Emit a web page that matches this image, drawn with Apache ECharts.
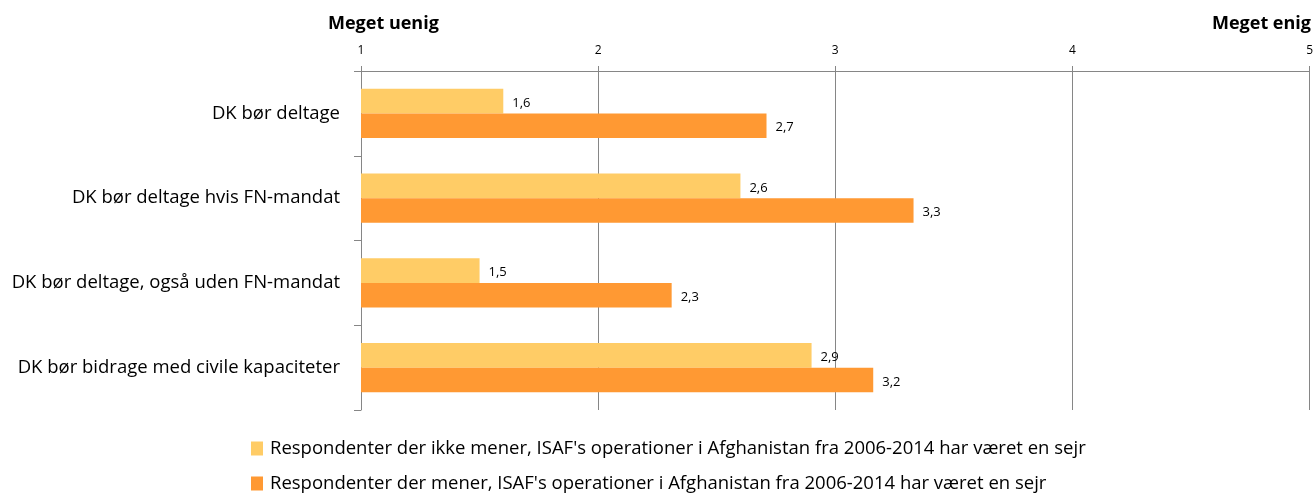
<!DOCTYPE html>
<html>
<head>
<meta charset="utf-8">
<script src="https://cdn.jsdelivr.net/npm/echarts@6/dist/echarts.min.js"></script>
<style>
html,body{margin:0;padding:0;background:#fff;}
#chart{width:1316px;height:493px;}
</style>
</head>
<body>
<div id="chart"></div>
<script>
const categories = [
  'DK bør deltage',
  'DK bør deltage hvis FN-mandat',
  'DK bør deltage, også uden FN-mandat',
  'DK bør bidrage med civile kapaciteter'
];
const seriesNames = [
  "Respondenter der ikke mener, ISAF's operationer i Afghanistan fra 2006-2014 har været en sejr",
  "Respondenter der mener, ISAF's operationer i Afghanistan fra 2006-2014 har været en sejr"
];
const valuesNotVictory = [1.60, 2.60, 1.50, 2.90];
const valuesVictory = [2.71, 3.33, 2.31, 3.16];
const axisMinLabel = 'Meget uenig';
const axisMaxLabel = 'Meget enig';

const FONT = 'Open Sans';
const chart = echarts.init(document.getElementById('chart'), null, {renderer: 'canvas'});
const fmt = p => p.value.toFixed(1).replace('.', ',');
const labelCfg = {
  show: true, position: 'right', distance: 9, offset: [0, 2],
  fontFamily: FONT, fontSize: 13, color: '#000', formatter: fmt
};
const legendBase = {
  orient: 'vertical', left: 251, padding: 0,
  itemWidth: 12, itemHeight: 14,
  icon: 'rect',
  textStyle: {fontFamily: FONT, fontSize: 18.5, lineHeight: 14, color: '#000', padding: [0, 0, 0, 2]}
};
chart.setOption({
  backgroundColor: '#fff',
  animation: false,
  title: [
    {text: axisMinLabel, left: 328, top: 15, padding: 0, textStyle: {fontFamily: FONT, fontSize: 18, fontWeight: 'bold', color: '#000'}},
    {text: axisMaxLabel, right: 5, top: 15, padding: 0, textStyle: {fontFamily: FONT, fontSize: 18, fontWeight: 'bold', color: '#000'}}
  ],
  legend: [
    Object.assign({}, legendBase, {top: 439, data: [seriesNames[0]]}),
    Object.assign({}, legendBase, {top: 474, data: [seriesNames[1]]})
  ],
  grid: {left: 361, right: 6, top: 71, bottom: 83, containLabel: false},
  xAxis: {
    type: 'value', position: 'top', min: 1, max: 5, interval: 1,
    axisLine: {show: true, lineStyle: {color: '#868686', width: 1}},
    axisTick: {show: true, length: 5, lineStyle: {color: '#868686'}},
    splitLine: {show: true, lineStyle: {color: '#868686', width: 1}},
    axisLabel: {fontFamily: FONT, fontSize: 12, color: '#000', margin: 14}
  },
  yAxis: {
    type: 'category', inverse: true, data: categories,
    axisLine: {show: true, lineStyle: {color: '#868686', width: 1}},
    axisTick: {show: true, length: 7, lineStyle: {color: '#868686'}},
    axisLabel: {fontFamily: FONT, fontSize: 18.5, color: '#000', margin: 21}
  },
  series: [
    {name: seriesNames[0], type: 'bar', data: valuesNotVictory, itemStyle: {color: '#FFCC66'},
     barGap: '0%', barCategoryGap: '42%', label: labelCfg},
    {name: seriesNames[1], type: 'bar', data: valuesVictory, itemStyle: {color: '#FF9933'},
     barGap: '0%', barCategoryGap: '42%', label: labelCfg}
  ]
});
</script>
</body>
</html>
